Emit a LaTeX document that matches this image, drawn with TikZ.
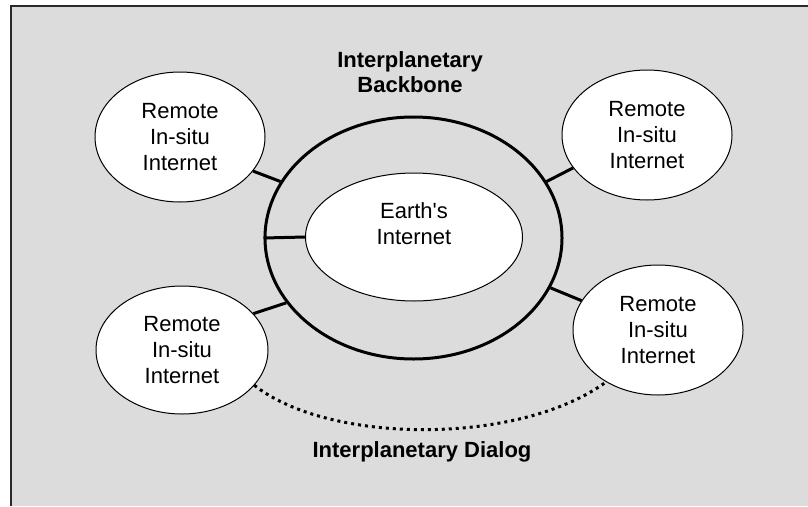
\documentclass[tikz,border=0pt]{standalone}
\usepackage{fontspec}
\setmainfont{Liberation Sans}[Ligatures=TeXOff]
\usetikzlibrary{shapes.geometric}
\definecolor{panel}{HTML}{DCDCDC}
\definecolor{framecol}{HTML}{2A2A2A}
\begin{document}
\begin{tikzpicture}[x=1pt,y=-1pt,
  net/.style={ellipse, draw=black, line width=1pt, fill=white, inner sep=0pt},
  remote/.style={net, minimum width=170pt, minimum height=130pt},
  txt/.style={align=center, font=\fontsize{22}{26}\selectfont},
  head/.style={align=center, font=\bfseries\fontsize{22}{25}\selectfont},
  link/.style={line width=3pt},
  dialog/.style={line width=3pt, dash pattern=on 3pt off 4pt}]
\useasboundingbox (0,0) rectangle (808,506);

% background panel with its top and left rule
\fill[panel] (10,5) rectangle (808,506);
\draw[framecol, line width=2pt] (10.5,506) -- (10.5,5.5) -- (808,5.5);

% interplanetary backbone ring
\node[ellipse, draw=black, line width=3pt, minimum width=297pt, minimum height=242pt, inner sep=0pt] (ring) at (413.5,238) {};

% networks
\node[net, minimum width=217pt, minimum height=128pt] (earth) at (414,237) {};
\node[remote] (rTL) at (180,137) {};
\node[remote] (rTR) at (647,135) {};
\node[remote, minimum width=172pt, minimum height=128pt] (rBL) at (182,350) {};
\node[remote] (rBR) at (658,330) {};

% links to the backbone
\draw[link] (ring.west) -- (earth.west);
\draw[link] (rTL.-25.6) -- (ring.157.2);
\draw[link] (rTR.-156) -- (ring.23.4);
\draw[link] (rBL.27.5) -- (ring.-153.9);
\draw[link] (rBR.159.8) -- (ring.-20.5);

% dialog between remote networks
\draw[dialog] (rBL.-26) .. controls (330,445) and (520,445) .. (rBR.-135);

% labels
\node[txt] at (414,224) {Earth's\\Internet};
\node[txt] at (rTL) {Remote\\In-situ\\Internet};
\node[txt] at (rTR) {Remote\\In-situ\\Internet};
\node[txt] at (rBL) {Remote\\In-situ\\Internet};
\node[txt] at (rBR) {Remote\\In-situ\\Internet};
\node[head] (bbtitle) at (410,72) {Interplanetary\\Backbone};
\node[head, anchor=base] (dtitle) at (422,457) {Interplanetary Dialog};
\end{tikzpicture}
\end{document}
